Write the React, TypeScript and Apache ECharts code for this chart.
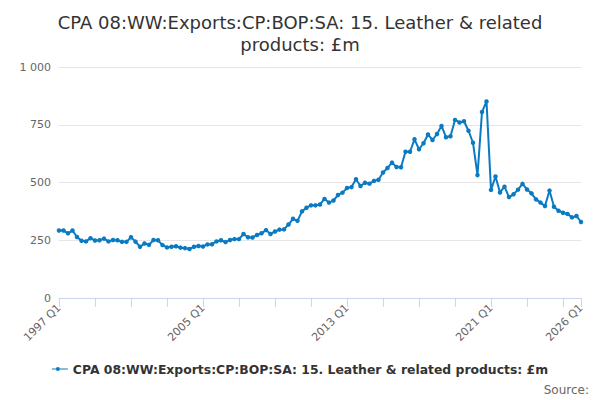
import React, { useEffect, useRef } from "react";
import * as echarts from "echarts";

const titleText = "CPA 08:WW:Exports:CP:BOP:SA: 15. Leather & related\nproducts: £m";
const seriesName = "CPA 08:WW:Exports:CP:BOP:SA: 15. Leather & related products: £m";

const startYear = 1997;
const endYear = 2026;

const categories: string[] = [];
for (let y = startYear; y <= endYear; y++) {
  for (let q = 1; q <= 4; q++) {
    if (y === endYear && q > 1) break;
    categories.push(`${y} Q${q}`);
  }
}

const values = [
  292, 292, 280, 292, 264, 248, 245, 259, 249, 250,
  257, 245, 251, 250, 243, 243, 263, 244, 222, 236,
  230, 251, 250, 229, 219, 222, 224, 218, 216, 212,
  222, 225, 223, 232, 233, 245, 250, 242, 251, 255,
  255, 277, 263, 262, 273, 280, 294, 277, 288, 296,
  297, 318, 343, 334, 375, 391, 401, 401, 405, 429,
  413, 422, 446, 456, 476, 480, 514, 485, 499, 495,
  507, 512, 543, 563, 586, 567, 566, 633, 633, 687,
  644, 670, 708, 684, 710, 745, 696, 700, 771, 760,
  765, 724, 672, 532, 805, 851, 468, 526, 457, 482,
  437, 449, 469, 494, 470, 453, 427, 413, 398, 465,
  395, 378, 369, 364, 349, 355, 329,
];

const yTicks = [0, 250, 500, 750, 1000];

export default function App() {
  const ref = useRef<HTMLDivElement>(null);
  useEffect(() => {
    document.body.style.margin = "0";
    if (!ref.current) return;
    const chart = echarts.init(ref.current, null, { renderer: "svg" });
    const last = categories.length - 1;
    chart.setOption({
      animation: false,
      textStyle: { fontFamily: "DejaVu Sans" },
      title: {
        text: titleText,
        left: "center",
        top: 6,
        textStyle: {
          fontFamily: "DejaVu Sans",
          fontSize: 18,
          fontWeight: "normal",
          color: "#333333",
          lineHeight: 22,
        },
      },
      grid: { left: 59, right: 19, top: 67, bottom: 102, containLabel: false },
      xAxis: {
        type: "category",
        data: categories,
        boundaryGap: false,
        axisLine: { lineStyle: { color: "#ccd6eb", width: 1 } },
        axisTick: {
          length: 9,
          lineStyle: { color: "#ccd6eb" },
          interval: (i: number) => i % 8 === 0 || i === last,
        },
        axisLabel: {
          rotate: 45,
          color: "#666666",
          fontSize: 11,
          fontFamily: "DejaVu Sans",
          margin: 8,
          interval: (i: number) => i % 32 === 0 || i === last,
        },
        splitLine: { show: false },
      },
      yAxis: {
        type: "value",
        min: yTicks[0],
        max: yTicks[yTicks.length - 1],
        interval: 250,
        axisLine: { show: false },
        axisTick: { show: false },
        axisLabel: {
          color: "#666666",
          fontSize: 11,
          fontFamily: "DejaVu Sans",
          margin: 8,
          formatter: (v: number) => String(v).replace(/\B(?=(\d{3})+(?!\d))/g, " "),
        },
        splitLine: { lineStyle: { color: "#e6e6e6", width: 1 } },
      },
      legend: {
        bottom: 20,
        left: "center",
        itemWidth: 16,
        itemHeight: 8,
        itemGap: 6,
        icon: "path://M0,3.5 L16,3.5 L16,4.5 L0,4.5 Z M6,2 A2,2 0 1,1 6,6 A2,2 0 1,1 6,2 Z",
        textStyle: {
          fontFamily: "DejaVu Sans",
          fontSize: 12.4,
          fontWeight: "bold",
          color: "#333333",
        },
        data: [seriesName],
      },
      graphic: [
        {
          type: "text",
          right: 11,
          bottom: 4,
          style: {
            text: "Source:",
            fontFamily: "DejaVu Sans",
            fontSize: 12,
            fill: "#666666",
          },
        },
      ],
      series: [
        {
          name: seriesName,
          type: "line",
          data: values,
          color: "#0a7bc2",
          lineStyle: { width: 2 },
          symbol: "circle",
          symbolSize: 4.5,
          showSymbol: true,
          showAllSymbol: true,
        },
      ],
    });
    return () => chart.dispose();
  }, []);
  return <div ref={ref} style={{ width: 600, height: 400 }} />;
}
